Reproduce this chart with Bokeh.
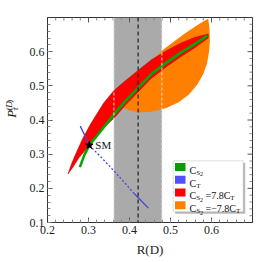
import numpy as np
from bokeh.plotting import figure
from bokeh.layouts import row
from bokeh.models import BoxAnnotation, Span, Label, SingleIntervalTicker, Range1d
from bokeh.embed import file_html
from bokeh.resources import INLINE

# ---------------- data ----------------
rd_center = 0.421           # R(D) measurement (central)
rd_lo, rd_hi = 0.362, 0.479 # R(D) 1-sigma band
sm_x, sm_y = 0.302, 0.326   # Standard Model point

green_x = [0.279, 0.290, 0.302, 0.335, 0.362, 0.392, 0.421, 0.452, 0.490, 0.525, 0.560, 0.590]
green_y = [0.262, 0.298, 0.326, 0.375, 0.417, 0.458, 0.494, 0.533, 0.568, 0.597, 0.623, 0.647]

blue_x = [0.280, 0.292, 0.302, 0.330, 0.362, 0.390, 0.412, 0.446]
blue_y = [0.382, 0.352, 0.326, 0.292, 0.251, 0.214, 0.184, 0.142]

red_up_x = [0.250, 0.258, 0.265, 0.285, 0.305, 0.337, 0.362, 0.390, 0.421, 0.452, 0.490, 0.525, 0.560, 0.592]
red_up_y = [0.242, 0.270, 0.290, 0.344, 0.388, 0.450, 0.486, 0.515, 0.545, 0.575, 0.603, 0.625, 0.642, 0.652]
red_lo_x = [0.250, 0.262, 0.277, 0.297, 0.318, 0.340, 0.362, 0.392, 0.421, 0.452, 0.490, 0.525, 0.560, 0.592]
red_lo_y = [0.242, 0.262, 0.290, 0.318, 0.350, 0.380, 0.405, 0.446, 0.482, 0.521, 0.556, 0.585, 0.612, 0.640]

orange_x = [0.345, 0.380, 0.420, 0.450, 0.484, 0.533, 0.565, 0.581, 0.592,
            0.595, 0.596, 0.594, 0.589, 0.580, 0.566, 0.545, 0.520, 0.490, 0.455, 0.423, 0.400, 0.379, 0.360]
orange_y = [0.440, 0.490, 0.535, 0.570, 0.608, 0.652, 0.677, 0.689, 0.696,
            0.670, 0.630, 0.600, 0.565, 0.535, 0.505, 0.475, 0.452, 0.435, 0.424, 0.422, 0.428, 0.440, 0.448]

legend_colors = ["#00a000", "#5050ff", "#ff0000", "#ff8000"]
# legend labels as (text, role) pieces: role 0 = normal, 1 = subscript, 2 = sub-subscript, 3 = space
legend_pieces = [
    [("C", 0), ("S", 1), ("2", 2)],
    [("C", 0), ("T", 1)],
    [("C", 0), ("S", 1), ("2", 2), (" ", 3), ("=7.8C", 0), ("T", 1)],
    [("C", 0), ("S", 1), ("2", 2), (" ", 3), ("=\u22127.8C", 0), ("T", 1)],
]

tick_interval = 0.1
n_minor = 5

# ---------------- layout helpers ----------------
LW = 22               # width of the narrow strip holding the y label
X0, X1, Y0, Y1 = 0.2, 0.7, 0.1, 0.7
FW, FH = 205, 205
FL, FT = 47.0, 17.0   # frame left/top on the page
sx = FW / (X1 - X0)
sy = FH / (Y1 - Y0)
def px2x(px):
    return X0 + (px - FL) / sx
def py2y(py):
    return Y1 - (py - FT) / sy

SERIF = "Liberation Serif"

p = figure(frame_width=FW, frame_height=FH, output_backend="svg", toolbar_location=None,
           x_range=Range1d(X0, X1), y_range=Range1d(Y0, Y1),
           min_border_left=int(FL) - LW, min_border_top=17, min_border_right=1, min_border_bottom=40)
p.grid.visible = False
p.background_fill_color = "white"
p.border_fill_color = "white"
p.outline_line_color = "#333333"

for ax in [p.xaxis[0], p.yaxis[0]]:
    ax.ticker = SingleIntervalTicker(interval=tick_interval, num_minor_ticks=n_minor)
    ax.major_tick_in = 5
    ax.major_tick_out = 0
    ax.minor_tick_in = 3
    ax.minor_tick_out = 0
    ax.major_tick_line_color = "#555555"
    ax.minor_tick_line_color = "#888888"
    ax.axis_line_color = "#333333"
    ax.major_label_text_font = SERIF
    ax.major_label_text_font_size = "12px"
    ax.major_label_text_color = "#222222"
p.xaxis[0].major_label_standoff = 3
p.yaxis[0].major_label_standoff = 3
p.xaxis[0].axis_label = "R(D)"
p.xaxis[0].axis_label_text_font = SERIF
p.xaxis[0].axis_label_text_font_style = "normal"
p.xaxis[0].axis_label_text_font_size = "13px"
p.xaxis[0].axis_label_text_color = "#222222"
p.xaxis[0].axis_label_standoff = 5

# inner ticks on top and right edges of the frame
step = tick_interval / n_minor
xt = np.round(np.arange(X0, X1 + 1e-9, step), 4)
yt = np.round(np.arange(Y0, Y1 + 1e-9, step), 4)
def is_major(v):
    return abs(v / tick_interval - round(v / tick_interval)) < 1e-6
for v in xt:
    L = (5 if is_major(v) else 3) / sy
    p.segment(x0=[v], y0=[Y1], x1=[v], y1=[Y1 - L],
              line_color="#555555" if is_major(v) else "#888888", line_width=1)
for v in yt:
    L = (5 if is_major(v) else 3) / sx
    p.segment(x0=[X1], y0=[v], x1=[X1 - L], y1=[v],
              line_color="#555555" if is_major(v) else "#888888", line_width=1)

# measurement band
p.add_layout(BoxAnnotation(left=rd_lo, right=rd_hi, fill_color="#aaaaaa", fill_alpha=1.0,
                           line_color=None, level="underlay"))

# orange region
p.patch(orange_x, orange_y, fill_color="#ff8000", line_color=None)
# red band
p.patch(red_up_x + red_lo_x[::-1], red_up_y + red_lo_y[::-1], fill_color="#ff0000",
        line_color="#990000", line_width=0.8, line_alpha=0.6)
# green line
p.line(green_x, green_y, line_color="#00aa00", line_width=2.6)
# blue line: solid / dashed / solid
p.line(blue_x[:3], blue_y[:3], line_color="#4444dd", line_width=1.3)
p.line(blue_x[2:7], blue_y[2:7], line_color="#4444dd", line_width=1.3, line_dash="2 2")
p.line(blue_x[6:], blue_y[6:], line_color="#4444dd", line_width=1.3)

# band edges and centre
for xv in [rd_lo, rd_hi]:
    p.add_layout(Span(location=xv, dimension="height", line_color="#dddddd", line_width=1, line_dash="3 2"))
p.add_layout(Span(location=rd_center, dimension="height", line_color="#111111", line_width=1.1, line_dash="4 3"))

# SM point
p.scatter([sm_x], [sm_y], marker="star", size=8, fill_color="black", line_color="black")
p.add_layout(Label(x=sm_x, y=sm_y, text="SM", x_offset=6, text_baseline="middle",
                   text_font=SERIF, text_font_size="11px", text_color="#111111"))

# ---------------- text helper ----------------
def lab(fig, x, y, txt, size, italic=False, angle=0.0, color="#111111"):
    fig.add_layout(Label(x=x, y=y, text=txt, text_font=SERIF,
                         text_font_size=f"{size}px", text_font_style="italic" if italic else "normal",
                         text_align="left", text_baseline="alphabetic", angle=angle, text_color=color))

# ---------------- y label strip: P_tau^(D), rotated ----------------
H = 17 + FH + 40
lf = figure(width=LW, height=H, output_backend="svg", toolbar_location=None,
            x_range=Range1d(0, LW), y_range=Range1d(0, H),
            x_axis_type=None, y_axis_type=None, min_border=0)
lf.grid.visible = False
lf.outline_line_color = None
lf.background_fill_color = "white"
lf.border_fill_color = "white"
a = np.pi / 2
def slab(xp, yp, txt, size, italic=False):
    lab(lf, xp, H - yp, txt, size, italic=italic, angle=a)
slab(11, 128, "P", 13, italic=True)
slab(14, 119, "\u03c4", 9, italic=True)
slab(8.5, 118.5, "(", 9)
slab(8.5, 115.5, "D", 9, italic=True)
slab(8.5, 109, ")", 9)

# ---------------- legend ----------------
bl, bt, br, bb = 172.7, 160.3, 242.7, 211.3
p.add_layout(BoxAnnotation(left=px2x(bl + 2), right=px2x(br + 2), top=py2y(bt + 2), bottom=py2y(bb + 2),
                           fill_color="#888888", fill_alpha=0.6, line_color=None))
p.add_layout(BoxAnnotation(left=px2x(bl), right=px2x(br), top=py2y(bt), bottom=py2y(bb),
                           fill_color="white", fill_alpha=1.0, line_color="#999999", line_width=1))

W = {"C": .667, "S": .556, "T": .611, "2": .5, "=": .564, "\u2212": .564, "7": .5, ".": .25, "8": .5, " ": .25}
def tw(s, size):
    return sum(W.get(c, .5) for c in s) * size

ROLE = {0: (10, 0.0), 1: (7, 2.5), 2: (6, 4.0), 3: (10, 0.0)}
rows = [166.5, 179.3, 192.0, 204.7]
for pieces, col, cy in zip(legend_pieces, legend_colors, rows):
    p.add_layout(BoxAnnotation(left=px2x(174.5), right=px2x(185), top=py2y(cy - 4), bottom=py2y(cy + 4),
                               fill_color=col, fill_alpha=1.0, line_color=None))
    base = cy + 3.3
    x = 189.0
    for t, role in pieces:
        s, dy = ROLE[role]
        if role != 3:
            lab(p, px2x(x), py2y(base + dy), t, s)
        x += tw(t, s)

layout = row(lf, p)
open("out.html", "w").write(file_html(layout, INLINE))
